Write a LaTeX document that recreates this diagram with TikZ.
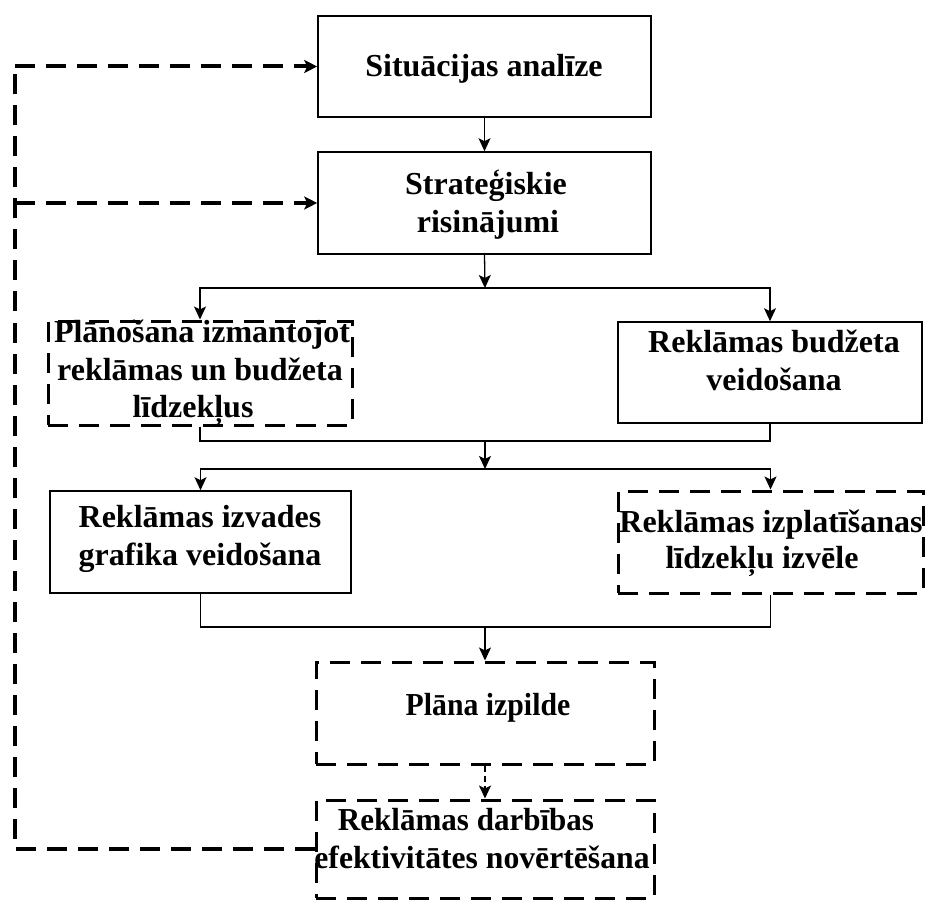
\documentclass[tikz,border=0pt]{standalone}
\usepackage{fontspec}
\usepackage{graphicx}
\setmainfont{Liberation Serif}
\usetikzlibrary{arrows.meta}
\begin{document}
\begin{tikzpicture}[x=1pt,y=-1pt,
  solidbox/.style={draw, line width=1.6pt, inner sep=0pt, minimum width=#1},
  dashbox/.style={draw, line width=3pt, dash pattern=on 20pt off 11pt, inner sep=0pt, minimum width=#1},
  txt/.style={anchor=base, inner sep=0pt, font=\fontsize{32}{38}\selectfont\bfseries},
  conn/.style={line width=1.3pt},
  arr/.style={line width=1.3pt, -{Stealth[length=13pt,width=12pt,inset=3pt]}},
  darr/.style={line width=2pt, dash pattern=on 6pt off 4pt, -{Stealth[length=13pt,width=12pt,inset=3pt]}},
  fb/.style={line width=4pt, dash pattern=on 20pt off 11pt},
  fbarr/.style={line width=4pt, dash pattern=on 20pt off 11pt, -{Stealth[length=13pt,width=13pt,inset=3pt]}}
]
\useasboundingbox (0,0) rectangle (926,901);
\fill[white] (0,0) rectangle (926,901);

% boxes
\node[solidbox=333pt, minimum height=101pt] (b1) at (484.5,66.5) {};
\node[solidbox=333pt, minimum height=102pt] (b2) at (484.5,203) {};
\node[dashbox=304pt, minimum height=104pt] (b3) at (200,373) {};
\node[solidbox=304pt, minimum height=101pt] (b4) at (770,372.5) {};
\node[solidbox=301pt, minimum height=102pt] (b5) at (200.5,542) {};
\node[dashbox=305pt, minimum height=102pt] (b6) at (770.5,542) {};
\node[dashbox=338pt, minimum height=102pt] (b7) at (485,713) {};
\node[dashbox=338pt, minimum height=98pt] (b8) at (485,849) {};

% texts
\node[txt] (t1) at (484,77) {Situācijas analīze};
\node[txt] (t2a) at (486,195) {Strateģiskie};
\node[txt] (t2b) at (488,233) {risinājumi};
\node[txt] (t3a) at (202,342) {Plānošana izmantojot};
\node[txt] (t3b) at (200,380) {reklāmas un budžeta};
\node[txt] (t3c) at (193,417) {līdzekļus};
\node[txt] (t4a) at (774,352) {Reklāmas budžeta};
\node[txt] (t4b) at (774,390) {veidošana};
\node[txt] (t5a) at (200,527) {Reklāmas izvades};
\node[txt] (t5b) at (200,565) {grafika veidošana};
\node[txt] (t6a) at (771,532) {Reklāmas izplatīšanas};
\node[txt] (t6b) at (762,568) {līdzekļu izvēle};
\node[txt] (t7) at (488,715) {\scalebox{0.93}[1]{Plāna izpilde}};
\node[txt] (t8a) at (466,830) {\scalebox{0.97}[1]{Reklāmas darbības}};
\node[txt] (t8b) at (482,868) {\scalebox{0.99}[1]{efektivitātes novērtēšana}};

% junctions
\coordinate (j1) at (485,288);
\coordinate (j2) at (485,441);
\coordinate (j3) at (485,469);
\coordinate (j4) at (485,627);
\coordinate (fl) at (15,849);

% connectors
\draw[arr] (b1.south) -- (b2.north);
\draw[arr] (b2.south) -- (j1);
\draw[arr] (j1) -| (b3.north);
\draw[arr] (j1) -| (b4.north);
\draw[conn] (b3.south) |- (j2) -| (b4.south);
\draw[arr] (j2) -- (j3);
\draw[arr] (j3) -| (b5.north);
\draw[arr] (j3) -| (b6.north);
\draw[conn] (b5.south) |- (j4) -| (b6.south);
\draw[arr] (j4) -- (b7.north);
\draw[darr] (b7.south) -- (b8.north);

% feedback
\draw[fb] (b8.west) -- (fl) -- (fl |- b1.west);
\draw[fbarr] (fl |- b1.west) -- (b1.west);
\draw[fbarr] (fl |- b2.west) -- (b2.west);
\end{tikzpicture}
\end{document}
